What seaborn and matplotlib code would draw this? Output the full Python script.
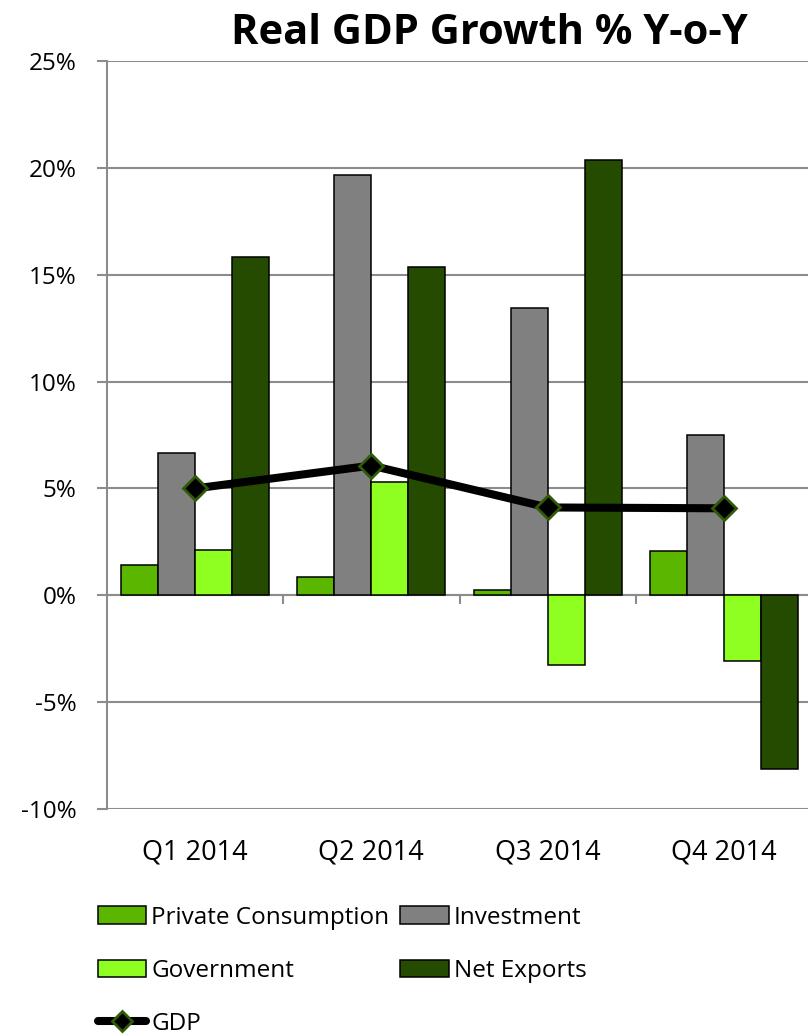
import matplotlib
matplotlib.use('Agg')
import matplotlib.pyplot as plt
from matplotlib.patches import Patch
from matplotlib.lines import Line2D
import pandas as pd
import seaborn as sns

quarters = ['Q1 2014', 'Q2 2014', 'Q3 2014', 'Q4 2014']
private_consumption = [1.40, 0.85, 0.27, 2.07]
investment = [6.68, 19.67, 13.46, 7.52]
government = [2.14, 5.30, -3.27, -3.08]
net_exports = [15.84, 15.37, 20.37, -8.13]
gdp = [5.00, 6.07, 4.11, 4.07]

series = ['Private Consumption', 'Investment', 'Government', 'Net Exports']
colors = ['#5BB600', '#808080', '#8FFF22', '#254B00']
grid_col = '#8C8C8C'

sns.set_theme(style='white')
plt.rcParams['font.family'] = ['Open Sans', 'DejaVu Sans']
plt.rcParams['text.color'] = 'black'
plt.rcParams['xtick.labelcolor'] = 'black'
plt.rcParams['ytick.labelcolor'] = 'black'

df = pd.DataFrame({
    'quarter': quarters * 4,
    'series': sum([[s] * 4 for s in series], []),
    'value': private_consumption + investment + government + net_exports,
})

fig = plt.figure(figsize=(8.08, 10.36), dpi=100)
ax = fig.add_axes([107 / 808, 1 - 809 / 1036, 705 / 808, 748 / 1036])

sns.barplot(data=df, x='quarter', y='value', hue='series', hue_order=series,
            palette=colors, saturation=1, width=0.84, edgecolor='black', linewidth=1.1,
            errorbar=None, legend=False, ax=ax, zorder=3)
sns.pointplot(x=quarters, y=gdp, color='black', markers='D', linestyles='-',
              linewidth=5.8, markersize=12, markeredgecolor='#2E5A0A',
              markeredgewidth=2, errorbar=None, ax=ax, zorder=4)

ax.set_ylim(-10, 25)
ax.set_xlim(-0.5, 3.5)
ax.set_yticks(range(-10, 26, 5))
ax.set_yticklabels([f'{v}%' for v in range(-10, 26, 5)], fontsize=17.5)
ax.set_xticks(range(4))
ax.set_xticklabels(quarters, fontsize=19.5)
ax.set_xlabel('')
ax.set_ylabel('')
ax.yaxis.grid(True, color=grid_col, linewidth=1.5)
ax.xaxis.grid(False)
ax.set_axisbelow(True)
for s in ['top', 'right', 'bottom']:
    ax.spines[s].set_visible(False)
ax.spines['left'].set_color(grid_col)
ax.spines['left'].set_linewidth(1.5)
ax.tick_params(axis='y', left=True, length=7, width=1.5, color=grid_col, pad=15)
ax.tick_params(axis='x', bottom=False, length=0, pad=21)
ax.axhline(0, color=grid_col, linewidth=1.5, zorder=2)
ax.vlines([0.5, 1.5, 2.5], -0.4, 0, color=grid_col, linewidth=1.5, zorder=2)

fig.text(489 / 808, 1 - 34 / 1036, 'Real GDP Growth % Y-o-Y', ha='center', va='center',
         fontsize=30, fontweight='bold', color='black')

handles = [
    Patch(facecolor=colors[0], edgecolor='black', linewidth=1.1),
    Patch(facecolor=colors[2], edgecolor='black', linewidth=1.1),
    Line2D([], [], color='black', linewidth=5.8, marker='D', markersize=10,
           markeredgecolor='#2E5A0A', markeredgewidth=2),
    Patch(facecolor=colors[1], edgecolor='black', linewidth=1.1),
    Patch(facecolor=colors[3], edgecolor='black', linewidth=1.1),
]
labels = ['Private Consumption', 'Government', 'GDP', 'Investment', 'Net Exports']
fig.legend(handles, labels, loc='upper left', bbox_to_anchor=(88 / 808, 1 - 896 / 1036),
           ncol=2, frameon=False, fontsize=17.5, handlelength=2.0, handleheight=0.75,
           handletextpad=0.2, columnspacing=0.45, labelspacing=1.2, borderaxespad=0)

fig.savefig('out.png', dpi=100)
